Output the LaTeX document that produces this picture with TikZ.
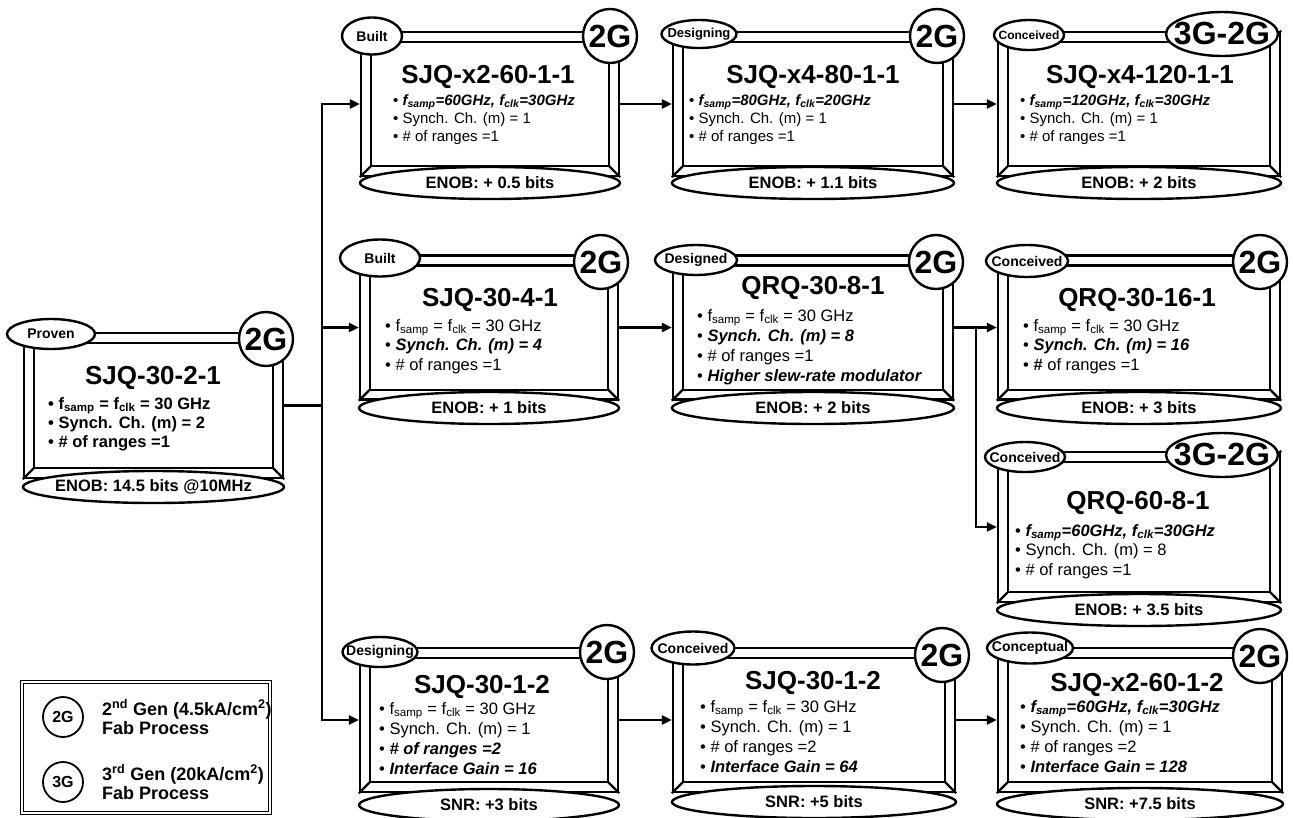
\documentclass[tikz,border=0pt]{standalone}
\usepackage{fontspec}
\setmainfont{Liberation Sans}
\usetikzlibrary{arrows.meta,positioning,calc,shapes.geometric}
\newcommand{\adcsize}[2]{\fontsize{#1}{#2}\selectfont}
\newcommand{\adcbi}[1]{\textbf{\textit{#1}}}
\newcommand{\fsamp}{f\textsubscript{samp}}
\newcommand{\fclk}{f\textsubscript{clk}}
\tikzset{
  adcbox/.style={draw, line width=2.4pt, fill=white, inner sep=0pt, minimum height=144},
  adcstatus/.style={draw, ellipse, line width=2.4pt, fill=white, inner xsep=-20pt,
                    inner ysep=0pt, font=\bfseries\adcsize{14}{16}},
  adcgen/.style={draw, circle, line width=2.4pt, fill=white, inner sep=0pt,
                 minimum size=54, font=\bfseries\adcsize{32}{34}},
  adcgenwide/.style={adcgen, ellipse, inner xsep=-15pt, minimum width=112, minimum height=44},
  adcmetric/.style={draw, ellipse, line width=2.4pt, fill=white, inner xsep=-30pt,
                    inner ysep=0pt, minimum height=32, font=\bfseries\adcsize{16.5}{18}},
  adctitle/.style={font=\bfseries\adcsize{26}{28}, inner sep=0pt},
  adclist/.style={anchor=north west, align=left, inner sep=0pt, font=\adcsize{16.5}{19.5}},
  adcflow/.style={-{Triangle[length=10pt,width=9pt]}, line width=2.4pt},
  adcline/.style={line width=2.4pt},
  adckey/.style={anchor=west, align=left, inner sep=0pt, font=\bfseries\adcsize{18}{19}},
}

\begin{document}
\begin{tikzpicture}[x=1pt,y=-1pt]
  \useasboundingbox (0,0) rectangle (1293,817);
  % frames
  \node[adcbox, minimum width=259, minimum height=145] (bP) at (153.5,405.5) {};
  \node[adcbox, minimum width=258] (bA) at (490,104) {};
  \node[adcbox, minimum width=280] (bB) at (813,104) {};
  \node[adcbox, minimum width=282] (bC) at (1139,104) {};
  \node[adcbox, minimum width=258] (bD) at (489,327.5) {};
  \node[adcbox, minimum width=280] (bE) at (813,327.5) {};
  \node[adcbox, minimum width=282] (bF) at (1139,327.5) {};
  \node[adcbox, minimum width=282, minimum height=150] (bG) at (1139,527) {};
  \node[adcbox, minimum width=258] (bH) at (489,720) {};
  \node[adcbox, minimum width=282] (bI) at (814,720) {};
  \node[adcbox, minimum width=284] (bJ) at (1140,720) {};
  \foreach \b in {bP,bA,bB,bC,bD,bE,bF,bG,bH,bI,bJ}{
    \draw[adcline] ([shift={(11,11)}]\b.north west) rectangle ([shift={(-11,-11)}]\b.south east);
    \draw[adcline] (\b.north west) -- ++(11,11) (\b.north east) -- ++(-11,11)
                   (\b.south west) -- ++(11,-11) (\b.south east) -- ++(-11,-11);
  }
  % bottom figures of merit
  \node[adcmetric, minimum width=261] (mP) at (153.5,487) {ENOB: 14.5 bits @10MHz};
  \node[adcmetric, minimum width=260] (mA) at (490,183) {ENOB: + 0.5 bits};
  \node[adcmetric, minimum width=282] (mB) at (813,183) {ENOB: + 1.1 bits};
  \node[adcmetric, minimum width=284] (mC) at (1139,183) {ENOB: + 2 bits};
  \node[adcmetric, minimum width=260] (mD) at (489,408) {ENOB: + 1 bits};
  \node[adcmetric, minimum width=282] (mE) at (813,408) {ENOB: + 2 bits};
  \node[adcmetric, minimum width=284] (mF) at (1139,408) {ENOB: + 3 bits};
  \node[adcmetric, minimum width=284] (mG) at (1139,610) {ENOB: + 3.5 bits};
  \node[adcmetric, minimum width=260] (mH) at (489,805) {SNR: +3 bits};
  \node[adcmetric, minimum width=284] (mI) at (814,802) {SNR: +5 bits};
  \node[adcmetric, minimum width=286] (mJ) at (1140,804) {SNR: +7.5 bits};
  % status tags
  \node[adcstatus, minimum width=88, minimum height=30] (sP) at (51,334) {Proven};
  \node[adcstatus, minimum width=60, minimum height=37] (sA) at (372,36) {Built};
  \node[adcstatus, minimum width=75, minimum height=28, font=\bfseries\adcsize{13}{15}] (sB) at (699,34) {Designing};
  \node[adcstatus, minimum width=70, minimum height=30, font=\bfseries\adcsize{12}{14}] (sC) at (1029,35) {Conceived};
  \node[adcstatus, minimum width=80, minimum height=37] (sD) at (380,258) {Built};
  \node[adcstatus, minimum width=82, minimum height=30] (sE) at (696,260) {Designed};
  \node[adcstatus, minimum width=82, minimum height=32] (sF) at (1027,261) {Conceived};
  \node[adcstatus, minimum width=80, minimum height=30] (sG) at (1025,457) {Conceived};
  \node[adcstatus, minimum width=75, minimum height=30] (sH) at (380,652) {Designing};
  \node[adcstatus, minimum width=83, minimum height=33] (sI) at (693,648) {Conceived};
  \node[adcstatus, minimum width=86, minimum height=31] (sJ) at (1030,648) {Conceptual};
  % fab generation
  \node[adcgen] (gP) at (266,339) {2G};
  \node[adcgen] (gA) at (610,36) {2G};
  \node[adcgen] (gB) at (937,36) {2G};
  \node[adcgenwide] (gC) at (1222,34) {3G-2G};
  \node[adcgen] (gD) at (601,262) {2G};
  \node[adcgen] (gE) at (936,262) {2G};
  \node[adcgen] (gF) at (1260,262) {2G};
  \node[adcgenwide] (gG) at (1222,455) {3G-2G};
  \node[adcgen] (gH) at (607,652) {2G};
  \node[adcgen] (gI) at (942,655) {2G};
  \node[adcgen] (gJ) at (1260,656) {2G};
  % names
  \node[adctitle] (tP) at (153,378) {SJQ-30-2-1};
  \node[adctitle] (tA) at (488,77) {SJQ-x2-60-1-1};
  \node[adctitle] (tB) at (813,77) {SJQ-x4-80-1-1};
  \node[adctitle] (tC) at (1140,77) {SJQ-x4-120-1-1};
  \node[adctitle] (tD) at (490,300) {SJQ-30-4-1};
  \node[adctitle] (tE) at (813,288) {QRQ-30-8-1};
  \node[adctitle] (tF) at (1137,300) {QRQ-30-16-1};
  \node[adctitle] (tG) at (1138,503) {QRQ-60-8-1};
  \node[adctitle] (tH) at (482,687) {SJQ-30-1-2};
  \node[adctitle] (tI) at (813,683) {SJQ-30-1-2};
  \node[adctitle] (tJ) at (1137,685) {SJQ-x2-60-1-2};
  % parameters
  \node[adclist, font=\bfseries\adcsize{16.5}{19}] (lP) at (48,397)
    {• \fsamp{} = \fclk{} = 30 GHz\\• Synch. Ch. (m) = 2\\• \# of ranges =1};
  \node[adclist, font=\adcsize{15}{18}] (lA) at (393,94)
    {• \adcbi{\fsamp=60GHz, \fclk=30GHz}\\• Synch. Ch. (m) = 1\\• \# of ranges =1};
  \node[adclist, font=\adcsize{15}{18}] (lB) at (689,94)
    {• \adcbi{\fsamp=80GHz, \fclk=20GHz}\\• Synch. Ch. (m) = 1\\• \# of ranges =1};
  \node[adclist, font=\adcsize{15}{18}] (lC) at (1020,94)
    {• \adcbi{\fsamp=120GHz, \fclk=30GHz}\\• Synch. Ch. (m) = 1\\• \# of ranges =1};
  \node[adclist] (lD) at (385,319)
    {• \fsamp{} = \fclk{} = 30 GHz\\• \adcbi{Synch. Ch. (m) = 4}\\• \# of ranges =1};
  \node[adclist, font=\adcsize{16.5}{20}] (lE) at (697,309)
    {• \fsamp{} = \fclk{} = 30 GHz\\• \adcbi{Synch. Ch. (m) = 8}\\• \# of ranges =1\\• \adcbi{Higher slew-rate modulator}};
  \node[adclist] (lF) at (1023,319)
    {• \fsamp{} = \fclk{} = 30 GHz\\• \adcbi{Synch. Ch. (m) = 16}\\• \textbf{\#} of ranges =1};
  \node[adclist] (lG) at (1015,524)
    {• \adcbi{\fsamp=60GHz, \fclk=30GHz}\\• Synch. Ch. (m) = 8\\• \# of ranges =1};
  \node[adclist, font=\adcsize{16.5}{20}] (lH) at (379,702)
    {• \fsamp{} = \fclk{} = 30 GHz\\• Synch. Ch. (m) = 1\\• \adcbi{\# of ranges =2}\\• \adcbi{Interface Gain = 16}};
  \node[adclist, font=\adcsize{16.5}{20}] (lI) at (700,700)
    {• \fsamp{} = \fclk{} = 30 GHz\\• Synch. Ch. (m) = 1\\• \# of ranges =2\\• \adcbi{Interface Gain = 64}};
  \node[adclist, font=\adcsize{16.5}{20}] (lJ) at (1020,700)
    {• \adcbi{\fsamp=60GHz, \fclk=30GHz}\\• Synch. Ch. (m) = 1\\• \# of ranges =2\\• \adcbi{Interface Gain = 128}};
  % connectors
  \coordinate (splitP) at (322,405.5);
  \coordinate (splitE) at (976,327.5);
  \draw[adcline] (bP.east) -- (splitP);
  \draw[adcflow] (splitP) |- (bA.west);
  \draw[adcflow] (splitP) |- (bD.west);
  \draw[adcflow] (splitP) |- (bH.west);
  \draw[adcflow] (bA.east) -- (bB.west);
  \draw[adcflow] (bB.east) -- (bC.west);
  \draw[adcflow] (bD.east) -- (bE.west);
  \draw[adcflow] (bE.east) -- (bF.west);
  \draw[adcflow] (splitE) |- (bG.west);
  \draw[adcflow] (bH.east) -- (bI.west);
  \draw[adcflow] (bI.east) -- (bJ.west);
  % legend
  \node[draw, double, double distance=2pt, line width=1.4pt, inner sep=0pt,
        minimum width=248, minimum height=131] (key) at (146,747.5) {};
  \node[adcgen, line width=1.8pt, minimum size=40, font=\bfseries\adcsize{16}{18}] (key2G) at (63,717) {2G};
  \node[adcgen, line width=1.8pt, minimum size=40, font=\bfseries\adcsize{16}{18}] (key3G) at (63,782) {3G};
  \node[adckey] (key2txt) at (102,717) {2\textsuperscript{nd} Gen (4.5kA/cm\textsuperscript{2})\\Fab Process};
  \node[adckey] (key3txt) at (102,782) {3\textsuperscript{rd} Gen (20kA/cm\textsuperscript{2})\\Fab Process};
\end{tikzpicture}
\end{document}
